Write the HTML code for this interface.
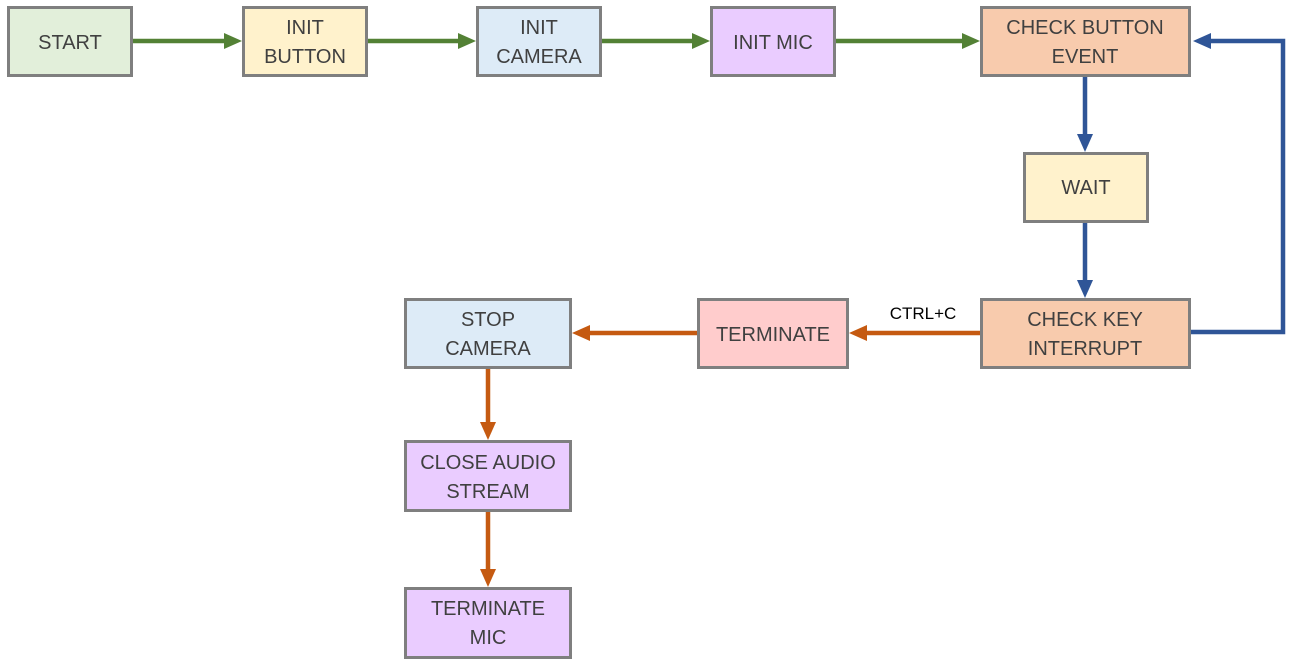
<!DOCTYPE html>
<html><head><meta charset="utf-8"><style>
html,body{margin:0;padding:0;background:#fff;}
svg{display:block;}
text{font-family:"Liberation Sans",sans-serif;font-size:20px;fill:#404040;text-anchor:middle;}
</style></head><body>
<svg width="1293" height="669" viewBox="0 0 1293 669">
<g stroke="#7f7f7f" stroke-width="3">
<rect x="8.5" y="7.5" width="123" height="68" fill="#e2efda"/>
<rect x="243.5" y="7.5" width="123" height="68" fill="#fff2cc"/>
<rect x="477.5" y="7.5" width="123" height="68" fill="#ddebf7"/>
<rect x="711.5" y="7.5" width="123" height="68" fill="#eaccff"/>
<rect x="981.5" y="7.5" width="208" height="68" fill="#f8cbad"/>
<rect x="1024.5" y="153.5" width="123" height="68" fill="#fff2cc"/>
<rect x="981.5" y="299.5" width="208" height="68" fill="#f8cbad"/>
<rect x="698.5" y="299.5" width="149" height="68" fill="#ffcccc"/>
<rect x="405.5" y="299.5" width="165" height="68" fill="#ddebf7"/>
<rect x="405.5" y="441.5" width="165" height="69" fill="#eaccff"/>
<rect x="405.5" y="588.5" width="165" height="69" fill="#eaccff"/>
</g>
<g stroke="#538135" stroke-width="4.5" fill="none">
<line x1="133" y1="41" x2="226" y2="41"/>
<line x1="368" y1="41" x2="460" y2="41"/>
<line x1="602" y1="41" x2="694" y2="41"/>
<line x1="836" y1="41" x2="964" y2="41"/>
</g>
<g fill="#538135">
<polygon points="224,33 242,41 224,49"/>
<polygon points="458,33 476,41 458,49"/>
<polygon points="692,33 710,41 692,49"/>
<polygon points="962,33 980,41 962,49"/>
</g>
<g stroke="#2f5597" stroke-width="4.5" fill="none">
<line x1="1085" y1="77" x2="1085" y2="136"/>
<line x1="1085" y1="223" x2="1085" y2="282"/>
<polyline points="1191,332 1283,332 1283,41 1209,41"/>
</g>
<g fill="#2f5597">
<polygon points="1077,134 1085,152 1093,134"/>
<polygon points="1077,280 1085,298 1093,280"/>
<polygon points="1211,33 1193,41 1211,49"/>
</g>
<g stroke="#c55a11" stroke-width="4.5" fill="none">
<line x1="980" y1="333" x2="865" y2="333"/>
<line x1="697" y1="333" x2="588" y2="333"/>
<line x1="488" y1="369" x2="488" y2="424"/>
<line x1="488" y1="512" x2="488" y2="571"/>
</g>
<g fill="#c55a11">
<polygon points="867,325 849,333 867,341"/>
<polygon points="590,325 572,333 590,341"/>
<polygon points="480,422 488,440 496,422"/>
<polygon points="480,569 488,587 496,569"/>
</g>
<text x="70" y="49">START</text>
<text x="305" y="34">INIT</text><text x="305" y="63">BUTTON</text>
<text x="539" y="34">INIT</text><text x="539" y="63">CAMERA</text>
<text x="773" y="49">INIT MIC</text>
<text x="1085" y="34">CHECK BUTTON</text><text x="1085" y="63">EVENT</text>
<text x="1086" y="194">WAIT</text>
<text x="1085" y="326">CHECK KEY</text><text x="1085" y="355">INTERRUPT</text>
<text x="773" y="341">TERMINATE</text>
<text x="488" y="326">STOP</text><text x="488" y="355">CAMERA</text>
<text x="488" y="469">CLOSE AUDIO</text><text x="488" y="498">STREAM</text>
<text x="488" y="615">TERMINATE</text><text x="488" y="644">MIC</text>
<text x="923" y="319" style="font-size:17px;fill:#000">CTRL+C</text>
</svg>
</body></html>
